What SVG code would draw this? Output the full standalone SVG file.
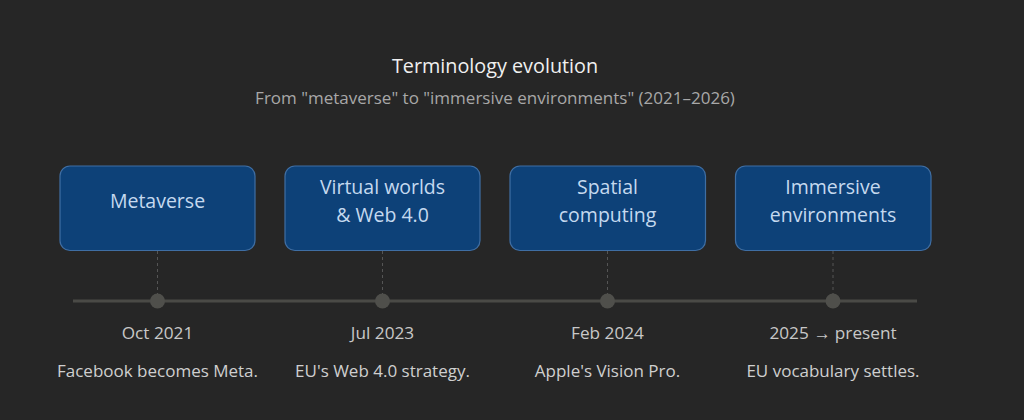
<svg xmlns="http://www.w3.org/2000/svg" width="1024" height="420" viewBox="0 0 1024 420">
<style>
.bg{fill:#262626}
.title{font-family:"Open Sans","Noto Sans","Liberation Sans",sans-serif;font-size:19.8px;fill:#f0f0f0;text-anchor:middle}
.sub{font-family:"Open Sans","Noto Sans","Liberation Sans",sans-serif;font-size:17px;fill:#a8a8a8;text-anchor:middle}
.box{fill:#0d4178;stroke:#3f6ea3;stroke-width:1.2}
.bt{font-family:"Open Sans","Noto Sans","Liberation Sans",sans-serif;font-size:19.5px;fill:#c5d9ef;text-anchor:middle}
.date{font-family:"Open Sans","Noto Sans","Liberation Sans",sans-serif;font-size:17.2px;fill:#c8c8c8;text-anchor:middle}
.desc{font-family:"Open Sans","Noto Sans","Liberation Sans",sans-serif;font-size:17px;fill:#cfcfcf;text-anchor:middle}
.axis{stroke:#4a4a46;stroke-width:3}
.dash{stroke:#555;stroke-width:1;stroke-dasharray:3 3}
.dot{fill:#4f4f4b}
</style>
<rect class="bg" x="0" y="0" width="1024" height="420"/>
<text class="title" x="495" y="73">Terminology evolution</text>
<text class="sub" x="495" y="104">From "metaverse" to "immersive environments" (2021–2026)</text>
<g id="connectors">
<line class="axis" x1="73" y1="301" x2="917" y2="301"/>
<line class="dash" x1="157.5" y1="251" x2="157.5" y2="301"/>
<line class="dash" x1="382.5" y1="251" x2="382.5" y2="301"/>
<line class="dash" x1="607.5" y1="251" x2="607.5" y2="301"/>
<line class="dash" x1="833" y1="251" x2="833" y2="301"/>
</g>
<g id="node1">
<rect class="box" x="60" y="166" width="195" height="84.5" rx="10"/>
<text class="bt" x="157.5" y="208">Metaverse</text>
<circle class="dot" cx="157.5" cy="301" r="7.5"/>
<text class="date" x="157.5" y="339">Oct 2021</text>
<text class="desc" x="157.5" y="377">Facebook becomes Meta.</text>
</g>
<g id="node2">
<rect class="box" x="285" y="166" width="195" height="84.5" rx="10"/>
<text class="bt" x="382.5" y="194">Virtual worlds</text>
<text class="bt" x="382.5" y="222">&amp; Web 4.0</text>
<circle class="dot" cx="382.5" cy="301" r="7.5"/>
<text class="date" x="382.5" y="339">Jul 2023</text>
<text class="desc" x="382.5" y="377">EU's Web 4.0 strategy.</text>
</g>
<g id="node3">
<rect class="box" x="510" y="166" width="195.5" height="84.5" rx="10"/>
<text class="bt" x="607.5" y="194">Spatial</text>
<text class="bt" x="607.5" y="222">computing</text>
<circle class="dot" cx="607.5" cy="301" r="7.5"/>
<text class="date" x="607.5" y="339">Feb 2024</text>
<text class="desc" x="607.5" y="377">Apple's Vision Pro.</text>
</g>
<g id="node4">
<rect class="box" x="735.5" y="166" width="195.5" height="84.5" rx="10"/>
<text class="bt" x="833" y="194">Immersive</text>
<text class="bt" x="833" y="222">environments</text>
<circle class="dot" cx="833" cy="301" r="7.5"/>
<text class="date" x="833" y="339">2025 → present</text>
<text class="desc" x="833" y="377">EU vocabulary settles.</text>
</g>
</svg>
